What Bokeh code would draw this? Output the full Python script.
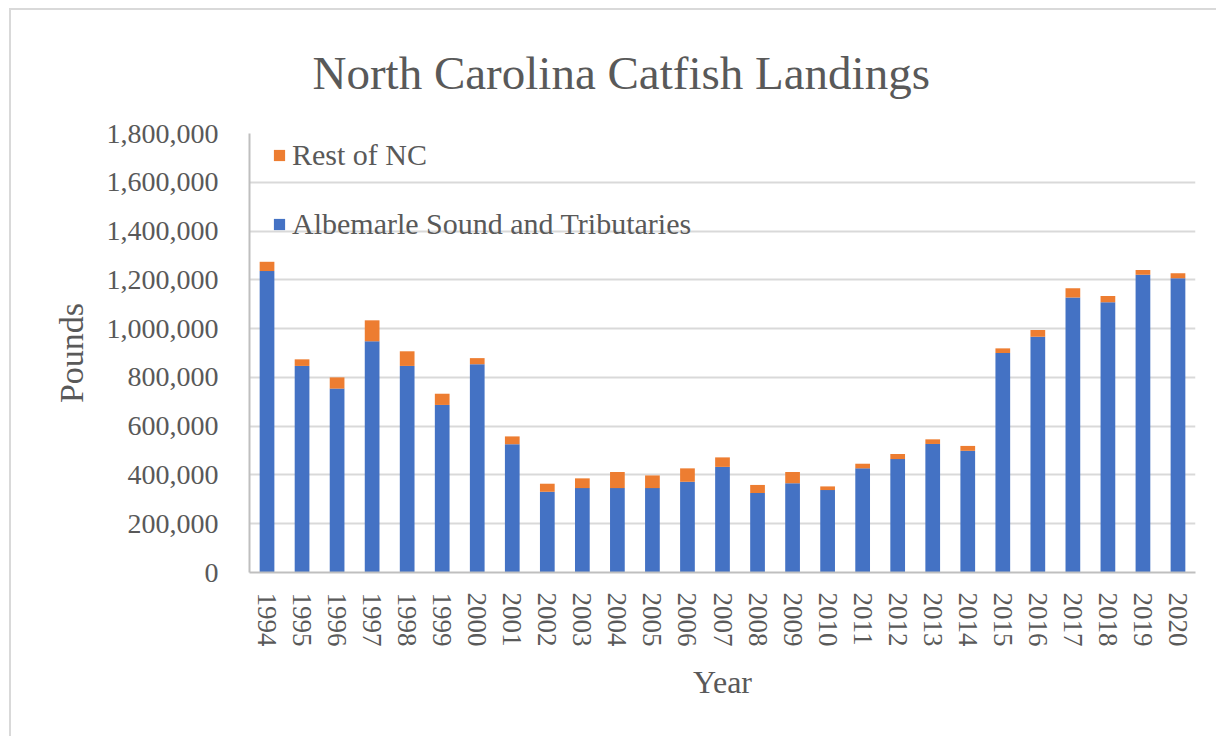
from bokeh.plotting import figure
from bokeh.models import Range1d, FixedTicker, NumeralTickFormatter, Legend, LegendItem
from bokeh.embed import file_html
from bokeh.resources import INLINE

years = [str(y) for y in range(1994, 2021)]
albemarle = [1236000, 847000, 754000, 948000, 847000, 687000, 854000, 526000, 331000, 346000,
             346000, 346000, 372000, 433000, 326000, 366000, 338000, 427000, 465000, 527000,
             499000, 900000, 967000, 1128000, 1108000, 1221000, 1207000]
totals = [1274000, 874000, 800000, 1034000, 907000, 733000, 879000, 558000, 364000, 386000,
          412000, 398000, 427000, 472000, 359000, 412000, 353000, 446000, 486000, 546000,
          519000, 919000, 994000, 1166000, 1134000, 1240000, 1227000]
rest_nc = [t - a for t, a in zip(totals, albemarle)]
y_ticks = list(range(0, 1800001, 200000))

SERIF = "Liberation Serif"
TXT = "#595959"
BLUE = "#4472C4"
ORANGE = "#ED7D31"

ML, MT = 9, 8  # outer chart-area border offset
p = figure(width=1218 - ML - 2, height=738 - MT - 2, x_range=years, y_range=Range1d(0, 1800000),
           output_backend="svg", toolbar_location=None,
           min_border_left=249 - ML - 2, min_border_right=23, min_border_top=132 - MT - 2,
           min_border_bottom=166)
p.margin = (MT, 0, 0, ML)
p.styles = {"border-left": "2px solid #d9d9d9", "border-top": "2px solid #d9d9d9"}

src = dict(year=years, albemarle=albemarle, rest=rest_nc)
rs = p.vbar_stack(["albemarle", "rest"], x="year", width=0.42, color=[BLUE, ORANGE],
                  line_color=None, source=src)

p.title.text = "North Carolina Catfish Landings"
p.title.text_font = SERIF
p.title.text_font_size = "47px"
p.title.text_font_style = "normal"
p.title.text_color = TXT
p.title.align = "left"
p.title.offset = 63
p.title.standoff = 69

p.outline_line_color = None
p.xgrid.grid_line_color = None
p.ygrid.grid_line_color = "#d9d9d9"
p.ygrid.grid_line_width = 2
p.yaxis.ticker = FixedTicker(ticks=y_ticks)
p.yaxis.formatter = NumeralTickFormatter(format="0,0")

for ax in (p.xaxis[0], p.yaxis[0]):
    ax.axis_line_color = "#bfbfbf"
    ax.axis_line_width = 2
    ax.major_tick_line_color = None
    ax.minor_tick_line_color = None
    ax.major_tick_out = 0
    ax.major_tick_in = 0
    ax.major_label_text_font = SERIF
    ax.major_label_text_font_size = "27px"
    ax.major_label_text_color = TXT
    ax.axis_label_text_font = SERIF
    ax.axis_label_text_font_style = "normal"
    ax.axis_label_text_color = TXT

p.yaxis.major_label_text_font_size = "28px"
p.yaxis.major_label_standoff = 31
p.yaxis.axis_label = "Pounds"
p.yaxis.axis_label_text_font_size = "34px"
p.yaxis.axis_label_standoff = 14

p.xaxis.major_label_orientation = "vertical"
p.xaxis.major_label_standoff = 20
p.xaxis.axis_label = "Year"
p.xaxis.axis_label_text_font_size = "32px"
p.xaxis.axis_label_standoff = 14
p.x_range.range_padding = 0

legend = Legend(items=[LegendItem(label="Rest of NC", renderers=[rs[1]]),
                       LegendItem(label="Albemarle Sound and Tributaries", renderers=[rs[0]])],
                location=(23, 331), padding=0, margin=0, spacing=35,
                glyph_width=14, glyph_height=14, label_standoff=6,
                label_text_font=SERIF, label_text_font_size="30px", label_text_color=TXT,
                border_line_color=None, background_fill_alpha=0)
p.add_layout(legend, "center")

open("out.html", "w").write(file_html(p, INLINE))
